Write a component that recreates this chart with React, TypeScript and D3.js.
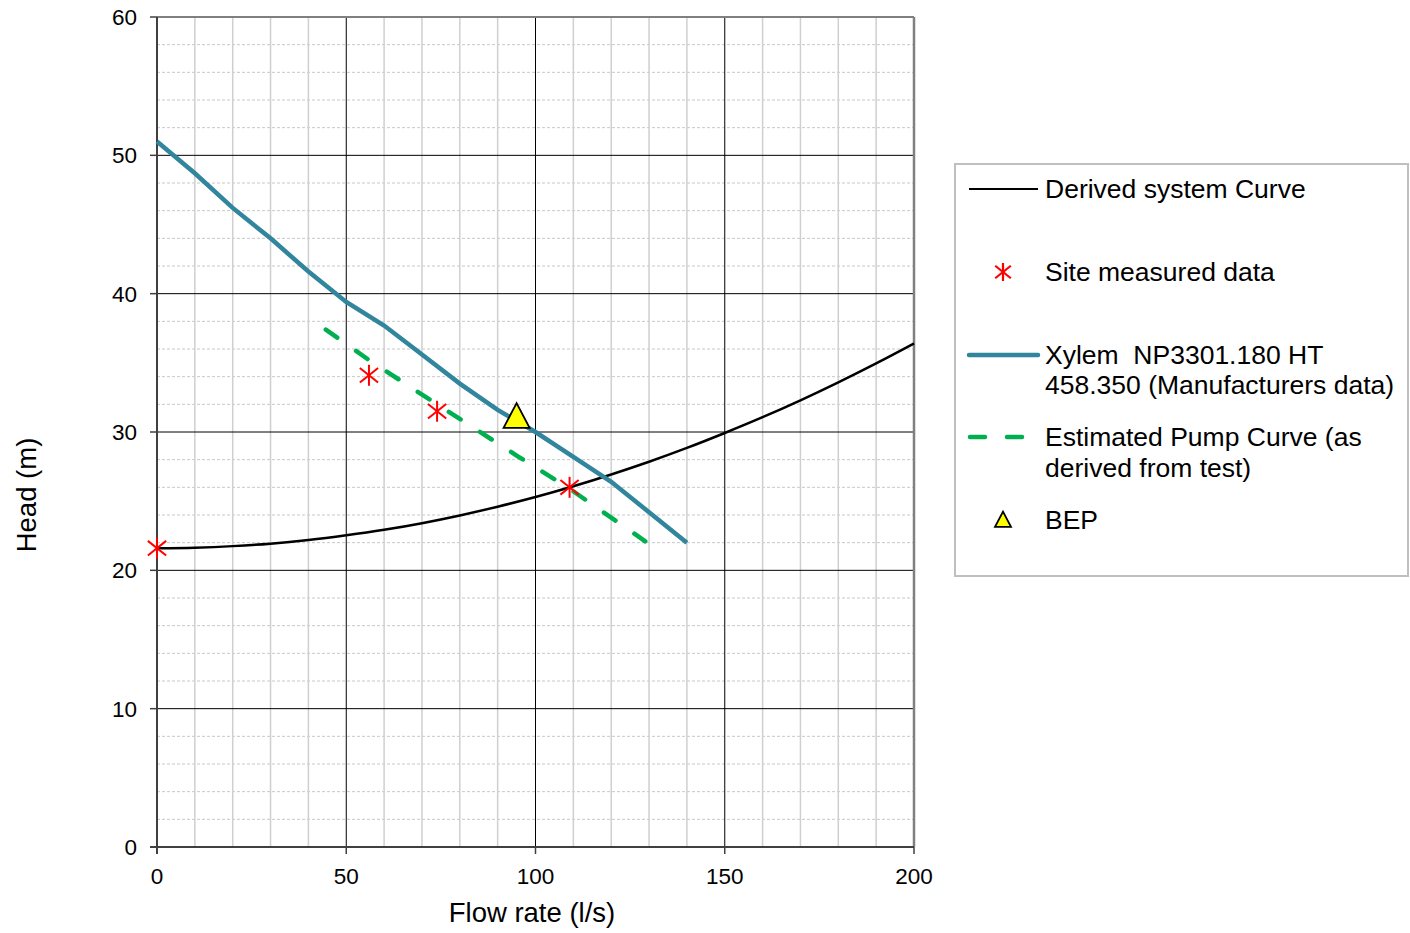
import React from "react";
import * as d3 from "d3";

// system curve (l/s, m)
const systemFlow = [0, 10, 20, 30, 40, 50, 60, 70, 80, 90, 100, 110, 120, 130, 140, 150, 160, 170, 180, 190, 200];
const systemHead = [21.6, 21.64, 21.75, 21.93, 22.19, 22.53, 22.93, 23.41, 23.97, 24.6, 25.3, 26.08, 26.93, 27.85, 28.85, 29.93, 31.07, 32.29, 33.59, 34.96, 36.4];

// manufacturer pump curve
const xylemFlow = [0, 10, 20, 30, 40, 50, 60, 70, 80, 90, 100, 110, 120, 130, 140];
const xylemHead = [51, 48.7, 46.2, 44, 41.6, 39.4, 37.7, 35.6, 33.5, 31.6, 30.0, 28.2, 26.4, 24.2, 22];

// estimated curve from test
const estFlow = [44.6, 56, 74, 95, 109, 129];
const estHead = [37.4, 35.2, 32.0, 28.3, 25.9, 22.1];

// site measurements
const siteFlow = [0, 56, 74, 109];
const siteHead = [21.6, 34.1, 31.5, 26.0];

const bep = { flow: 95, head: 31.1 };

const xTicks = [0, 50, 100, 150, 200];
const yTicks = [0, 10, 20, 30, 40, 50, 60];

const FONT = "Liberation Sans, Arial, sans-serif";

function Star({ x, y, r, w = 2 }: { x: number; y: number; r: number; w?: number }) {
  const d = r * 0.87;
  return (
    <g stroke="#ff0000" strokeWidth={w}>
      <line x1={x} y1={y - r} x2={x} y2={y + r} />
      <line x1={x - d} y1={y - d * 0.8} x2={x + d} y2={y + d * 0.8} />
      <line x1={x - d} y1={y + d * 0.8} x2={x + d} y2={y - d * 0.8} />
    </g>
  );
}

function Tri({ x, y, s }: { x: number; y: number; s: number }) {
  const h = s * 0.95;
  return (
    <path
      d={`M${x},${y - h * 0.55}L${x + s / 2},${y + h * 0.45}L${x - s / 2},${y + h * 0.45}Z`}
      fill="#ffff00"
      stroke="#000"
      strokeWidth={1.8}
    />
  );
}

export default function App() {
  const left = 157, right = 914, top = 17, bottom = 847;
  const x = d3.scaleLinear().domain([0, 200]).range([left, right]);
  const y = d3.scaleLinear().domain([0, 60]).range([bottom, top]);

  const line = (xs: number[], ys: number[], curve: d3.CurveFactory) =>
    d3.line<number>().x((d) => x(d)).y((_, i) => y(ys[i])).curve(curve)(xs) || "";

  const minorX = d3.range(10, 200, 10).filter((v) => v % 50 !== 0);
  const minorY = d3.range(2, 60, 2).filter((v) => v % 10 !== 0);

  return (
    <svg width={1410} height={933} style={{ position: "absolute", left: 0, top: 0 }} fontFamily={FONT}>
      <rect width={1410} height={933} fill="#fff" />
      {/* grid */}
      {minorY.map((v) => (
        <line key={"my" + v} x1={left} x2={right} y1={y(v)} y2={y(v)} stroke="#c8c8c8" strokeWidth={1} strokeDasharray="3,2" />
      ))}
      {minorX.map((v) => (
        <line key={"mx" + v} x1={x(v)} x2={x(v)} y1={top} y2={bottom} stroke="#cfcfcf" strokeWidth={1.5} />
      ))}
      {yTicks.slice(1, -1).map((v) => (
        <line key={"gy" + v} x1={left} x2={right} y1={y(v)} y2={y(v)} stroke="#000" strokeWidth={1} />
      ))}
      {xTicks.slice(1, -1).map((v) => (
        <line key={"gx" + v} x1={x(v)} x2={x(v)} y1={top} y2={bottom} stroke="#000" strokeWidth={1} />
      ))}
      {/* plot border */}
      <line x1={left} x2={right} y1={top} y2={top} stroke="#808080" strokeWidth={2} />
      <line x1={right} x2={right} y1={top} y2={bottom} stroke="#808080" strokeWidth={2.5} />
      <line x1={left} x2={left} y1={top} y2={bottom + 7} stroke="#404040" strokeWidth={2} />
      <line x1={left - 7} x2={right} y1={bottom} y2={bottom} stroke="#404040" strokeWidth={2} />
      {yTicks.map((v) => (
        <g key={"ty" + v}>
          <line x1={left - 7} x2={left} y1={y(v)} y2={y(v)} stroke="#404040" strokeWidth={1.5} />
          <text x={137} y={y(v)} dy="0.36em" textAnchor="end" fontSize={22.5}>{v}</text>
        </g>
      ))}
      {xTicks.map((v) => (
        <g key={"tx" + v}>
          <line x1={x(v)} x2={x(v)} y1={bottom} y2={bottom + 7} stroke="#404040" strokeWidth={1.5} />
          <text x={x(v)} y={884} textAnchor="middle" fontSize={22.5}>{v}</text>
        </g>
      ))}
      <text x={532} y={922} textAnchor="middle" fontSize={27.5}>Flow rate (l/s)</text>
      <text transform="translate(36,495) rotate(-90)" textAnchor="middle" fontSize={27.5}>Head (m)</text>

      {/* series */}
      <path d={line(systemFlow, systemHead, d3.curveMonotoneX)} fill="none" stroke="#000" strokeWidth={2.5} />
      <path d={line(xylemFlow, xylemHead, d3.curveLinear)} fill="none" stroke="#31859c" strokeWidth={4.5} />
      <path d={line(estFlow, estHead, d3.curveLinear)} fill="none" stroke="#00b050" strokeWidth={4.5} strokeDasharray="14,23" strokeLinecap="round" />
      {siteFlow.map((f, i) => (
        <Star key={"s" + i} x={x(f)} y={y(siteHead[i])} r={10.5} />
      ))}
      <Tri x={x(bep.flow)} y={y(bep.head)} s={26} />

      {/* legend */}
      <rect x={955} y={164} width={453} height={412} fill="#fff" stroke="#bfbfbf" strokeWidth={2} />
      <g fontSize={26.5}>
        <line x1={969} x2={1038} y1={189} y2={189} stroke="#000" strokeWidth={2.2} />
        <text x={1045} y={198}>Derived system Curve</text>

        <Star x={1003} y={272} r={9} w={2.2} />
        <text x={1045} y={281}>Site measured data</text>

        <line x1={969} x2={1038} y1={355} y2={355} stroke="#31859c" strokeWidth={4.5} strokeLinecap="round" />
        <text x={1045} y={364}>{"Xylem\u00a0 NP3301.180 HT"}</text>
        <text x={1045} y={394}>458.350 (Manufacturers data)</text>

        <line x1={970} x2={1026} y1={437} y2={437} stroke="#00b050" strokeWidth={4.5} strokeDasharray="15,22" strokeLinecap="round" />
        <text x={1045} y={446}>Estimated Pump Curve (as</text>
        <text x={1045} y={477}>derived from test)</text>

        <Tri x={1003} y={520} s={16} />
        <text x={1045} y={529}>BEP</text>
      </g>
    </svg>
  );
}
